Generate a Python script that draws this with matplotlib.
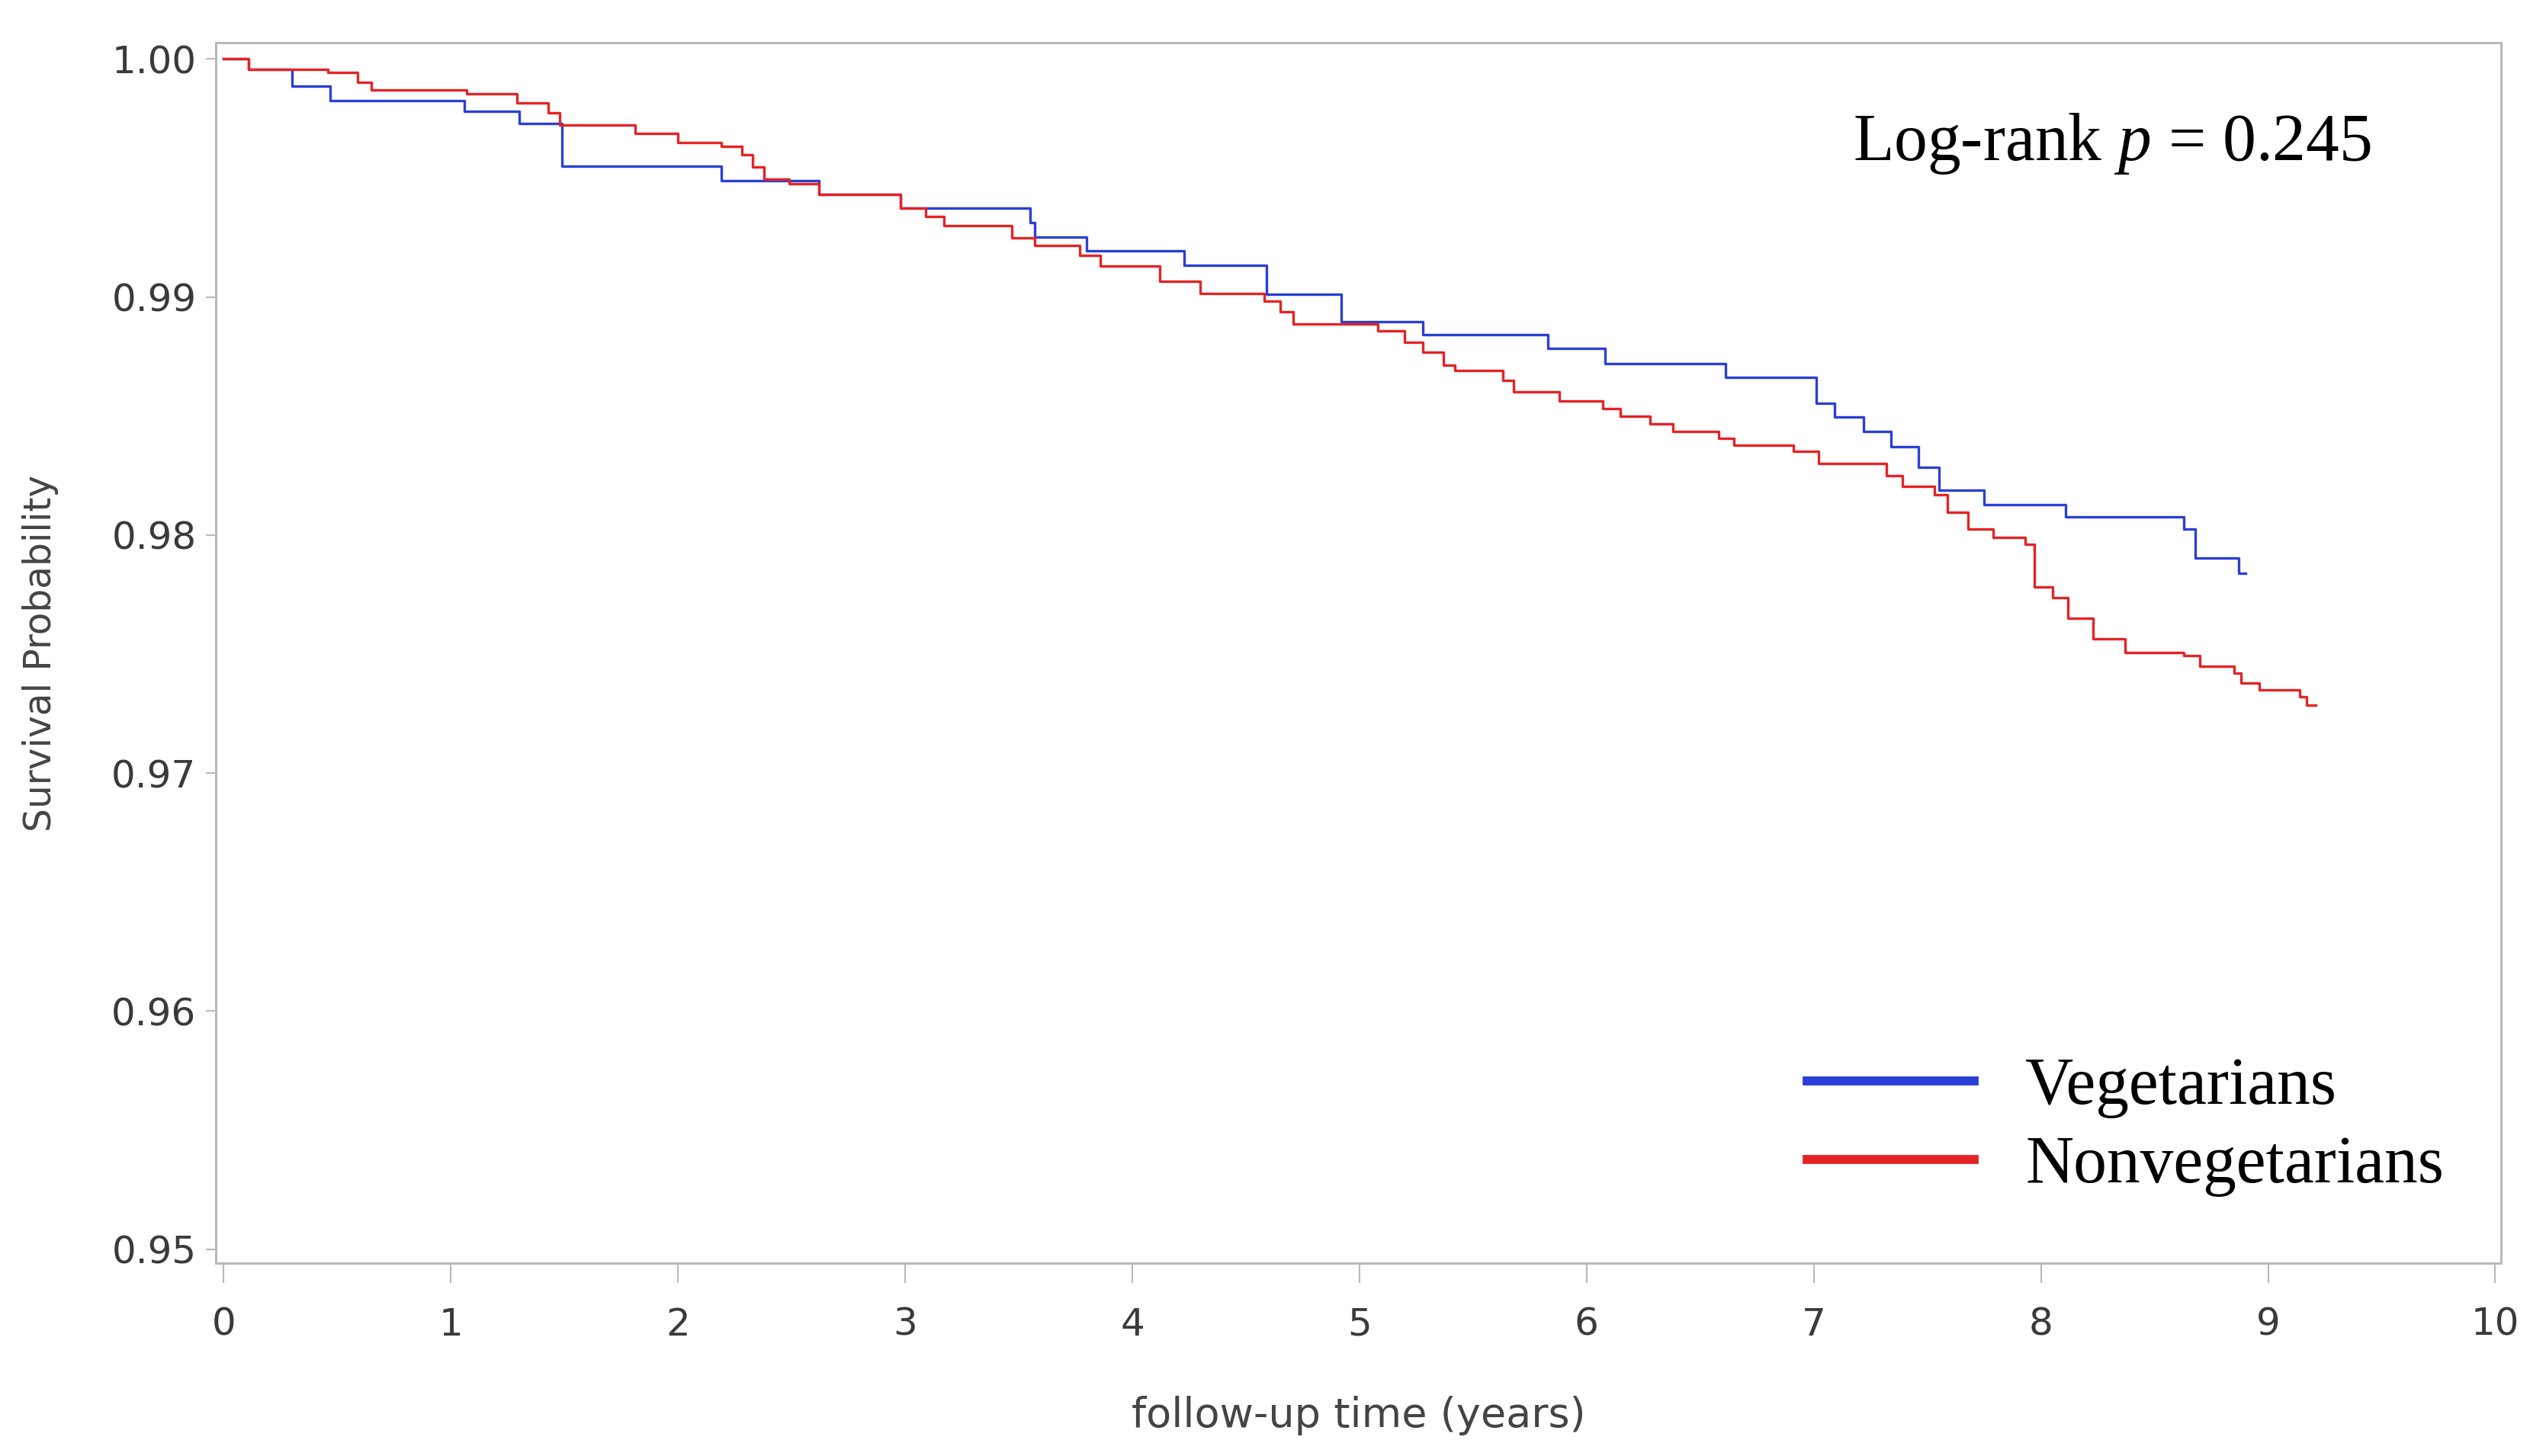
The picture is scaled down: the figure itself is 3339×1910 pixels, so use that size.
import matplotlib
matplotlib.use("Agg")
import matplotlib.pyplot as plt

# Kaplan-Meier step data
veg_t = [0, 0.11, 0.30, 0.47, 1.06, 1.30, 1.49, 2.19, 2.62, 2.98, 3.55, 3.57, 3.80,
         4.23, 4.59, 4.92, 5.28, 5.83, 6.08, 6.61, 7.01, 7.09, 7.22, 7.34, 7.46,
         7.55, 7.75, 8.11, 8.63, 8.68, 8.87, 8.90]
veg_s = [1.0, 0.99957, 0.99884, 0.99825, 0.99781, 0.99730, 0.99549, 0.99488, 0.99430,
         0.99372, 0.99313, 0.99252, 0.99194, 0.99133, 0.99012, 0.98896, 0.98842, 0.98784,
         0.98719, 0.98661, 0.98552, 0.98497, 0.98436, 0.98371, 0.98286, 0.98190, 0.98126,
         0.98076, 0.98026, 0.97903, 0.97838, 0.97838]

nonveg_t = [0, 0.11, 0.46, 0.59, 0.65, 1.07, 1.29, 1.43, 1.48, 1.81, 2.00, 2.19, 2.28,
            2.33, 2.38, 2.49, 2.62, 2.98, 3.09, 3.17, 3.47, 3.57, 3.77, 3.86, 4.12, 4.30,
            4.58, 4.65, 4.71, 5.08, 5.20, 5.28, 5.37, 5.42, 5.63, 5.68, 5.88, 6.07, 6.15,
            6.28, 6.38, 6.58, 6.65, 6.91, 7.02, 7.32, 7.39, 7.53, 7.59, 7.68, 7.79, 7.93,
            7.97, 8.05, 8.12, 8.23, 8.37, 8.63, 8.70, 8.85, 8.88, 8.96, 9.14, 9.17, 9.21]
nonveg_s = [1.0, 0.99957, 0.99943, 0.99900, 0.99868, 0.99852, 0.99814, 0.99772, 0.99723,
            0.99686, 0.99649, 0.99633, 0.99596, 0.99545, 0.99495, 0.99474, 0.99430, 0.99372,
            0.99339, 0.99301, 0.99248, 0.99216, 0.99173, 0.99130, 0.99066, 0.99013, 0.98981,
            0.98938, 0.98885, 0.98858, 0.98810, 0.98767, 0.98713, 0.98691, 0.98649, 0.98600,
            0.98563, 0.98531, 0.98499, 0.98467, 0.98435, 0.98405, 0.98378, 0.98352, 0.98299,
            0.98248, 0.98205, 0.98169, 0.98097, 0.98025, 0.97989, 0.97960, 0.97781, 0.97738,
            0.97652, 0.97565, 0.97508, 0.97493, 0.97450, 0.97421, 0.97378, 0.97350, 0.97320,
            0.97284, 0.97284]

labels = ["Vegetarians", "Nonvegetarians"]
colors = ["#2a3fd6", "#e52325"]
x_ticks = list(range(0, 11))
y_ticks = [0.95, 0.96, 0.97, 0.98, 0.99, 1.00]

plt.rcParams['mathtext.fontset'] = 'custom'
plt.rcParams['mathtext.rm'] = 'Liberation Serif'
plt.rcParams['mathtext.it'] = 'Liberation Serif:italic'

fig = plt.figure(figsize=(33.39, 19.10), dpi=100)
ax = fig.add_axes([0.0848, 0.1325, 0.8975, 0.8382])

ax.step(veg_t, veg_s, where='post', color=colors[0], lw=2.4, label=labels[0])
ax.step(nonveg_t, nonveg_s, where='post', color=colors[1], lw=2.4, label=labels[1])

ax.set_xlim(-0.034, 10.025)
ax.set_ylim(0.94942, 1.00068)
ax.set_xticks(x_ticks)
ax.set_yticks(y_ticks)
ax.set_yticklabels([f"{v:.2f}" for v in y_ticks])

for sp in ax.spines.values():
    sp.set_color('#b9b9b9')
    sp.set_linewidth(2.2)
ax.tick_params(axis='x', length=19, width=1.5, color='#b9b9b9', pad=22,
               labelsize=36, labelcolor='#3a3a3a')
ax.tick_params(axis='y', length=9.5, width=1.5, color='#b9b9b9', pad=9,
               labelsize=36, labelcolor='#3a3a3a')

ax.set_xlabel("follow-up time (years)", fontsize=39, color='#444444', va='center')
ax.xaxis.set_label_coords(0.5, -0.125)
ax.set_ylabel("Survival Probability", fontsize=35, color='#444444', va='center')
ax.yaxis.set_label_coords(-0.0767, 0.5)

ax.text(0.7164, 0.9038, "Log-rank $p$ = 0.245", transform=ax.transAxes,
        family='Liberation Serif', fontsize=63, va='baseline', ha='left')

leg = ax.legend(loc='center left', bbox_to_anchor=(0.6964, 0.1116), frameon=False,
                prop={'family': 'Liberation Serif', 'size': 63},
                handlelength=2.5, handletextpad=0.77, labelspacing=0.25,
                borderpad=0, borderaxespad=0)
for line in leg.get_lines():
    line.set_linewidth(8.5)

fig.savefig("out.png", dpi=100)
